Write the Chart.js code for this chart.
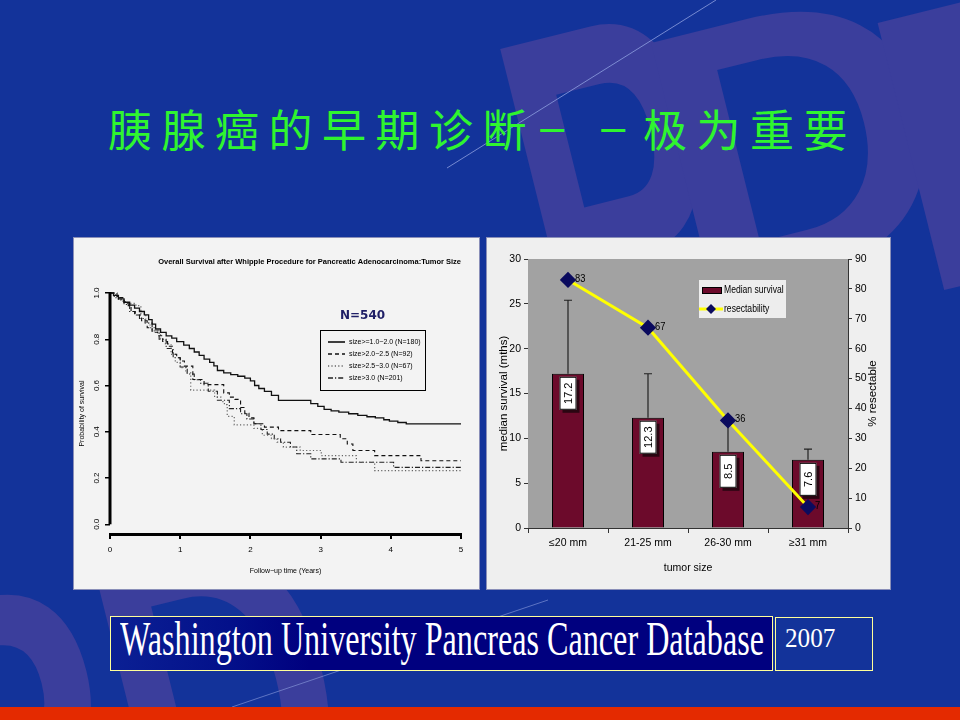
<!DOCTYPE html>
<html>
<head>
<meta charset="utf-8">
<script src="https://cdn.jsdelivr.net/npm/chart.js@4.4.1/dist/chart.umd.min.js"></script>
<style>
  body { margin: 0; width: 960px; height: 720px; overflow: hidden; position: relative; background: #13339a; font-family: "Liberation Sans", Arial, sans-serif; }
  .wm { position: absolute; font: bold 400px/400px "Liberation Sans", Arial, sans-serif; color: #3b3e9c; white-space: nowrap; }
  #wmP { left: 466px; top: -15px; transform-origin: 141px 138px; transform: rotate(-14deg) scale(0.75, 1.3); }
  #wmD { left: 651px; top: -60px; transform-origin: 150px 195px; transform: rotate(-14deg) scale(1.0, 0.95); }
  #wmI { left: 899px; top: -55px; transform-origin: 56px 195px; transform: rotate(-14deg) scale(1.6, 1.0); }
  #wmLow { left: -150px; top: 560px; transform-origin: 0 0; transform: rotate(-14deg) scale(0.8, 1.1); }
  #lines { position: absolute; left: 0; top: 0; }
  #title { position: absolute; left: 108px; top: 98px; font-size: 44px; line-height: 60px; font-family: "Noto Sans CJK SC", sans-serif; color: #2ff52f; letter-spacing: 9.5px; white-space: nowrap; }
  #title .dash { display: inline-block; }
  #dash1 { transform: translateX(-7px) scaleX(0.75); }
  #dash2 { transform: scaleX(0.75); }
  .panel { position: absolute; box-sizing: border-box; border: 1px solid #8a8fb8; }
  #leftPanel { left: 73px; top: 237px; width: 407px; height: 353px; background: #f3f3f3; }
  #rightPanel { left: 486px; top: 237px; width: 405px; height: 353px; background: #efefef; }
  .panel canvas { position: absolute; left: 0; top: 0; }
  #banner { position: absolute; left: 110px; top: 616px; width: 663px; height: 55px; box-sizing: border-box; border: 1px solid #ffff99; background: linear-gradient(90deg, #0b2094 0%, #03108a 18%, #00007f 30%, #00007f 100%); overflow: hidden; }
  #bannerText { position: absolute; left: 9px; top: 0; font: 48px/44px "Liberation Serif", "Times New Roman", serif; color: #fff; white-space: nowrap; transform-origin: 0 0; }
  #year { position: absolute; left: 775px; top: 617px; width: 98px; height: 54px; box-sizing: border-box; border: 1px solid #ffff99; }
  #yearText { position: absolute; left: 9px; top: 6px; font: 28px/28px "Liberation Serif", "Times New Roman", serif; color: #fff; transform-origin: 0 0; transform: scaleX(0.9); }
  #redStrip { position: absolute; left: 0; top: 707px; width: 960px; height: 13px; background: #e42a00; }
</style>
</head>
<body>
<div class="wm" id="wmLow">PD</div>
<div class="wm" id="wmP">P</div>
<div class="wm" id="wmD">D</div>
<div class="wm" id="wmI">I</div>
<svg id="lines" width="960" height="720">
  <line x1="447" y1="168" x2="716" y2="0" stroke="#8fa0e0" stroke-width="1" opacity="0.8"/>
  <line x1="232" y1="707" x2="548" y2="600" stroke="#8fa0e0" stroke-width="1" opacity="0.6"/>
</svg>
<div id="title">胰腺癌的早期诊断<span class="dash" id="dash1">－</span><span class="dash" id="dash2">－</span>极为重要</div>

<div class="panel" id="leftPanel"><canvas id="survivalChart" width="406" height="352"></canvas></div>
<div class="panel" id="rightPanel"><canvas id="resectChart" width="403" height="351"></canvas></div>

<div id="banner"><span id="bannerText">Washington University Pancreas Cancer Database</span></div>
<div id="year"><span id="yearText">2007</span></div>
<div id="redStrip"></div>

<script>
// ---------- left: overall survival by tumour size ----------
const survTitle = "Overall Survival after Whipple Procedure for Pancreatic Adenocarcinoma:Tumor Size";
const probTicks = [0, 0.2, 0.4, 0.6, 0.8, 1.0];
const sizeLabels = ["size>=1.0\u22122.0 (N=180)", "size>2.0\u22122.5 (N=92)", "size>2.5\u22123.0 (N=67)", "size>3.0 (N=201)"];

const yearsA = [0, 0.05, 0.12, 0.2, 0.28, 0.35, 0.42, 0.49, 0.55, 0.6, 0.65, 0.72, 0.8, 0.88, 0.95, 1.05, 1.13, 1.2, 1.27, 1.34, 1.42, 1.48, 1.53, 1.62, 1.72, 1.82, 1.92, 2.0, 2.06, 2.12, 2.2, 2.3, 2.4, 2.86, 2.96, 3.05, 3.15, 3.26, 3.4, 3.53, 3.66, 3.78, 3.9, 3.98, 4.1, 4.22, 5.0];
const survA  = [1, 0.99, 0.975, 0.96, 0.948, 0.935, 0.92, 0.905, 0.885, 0.865, 0.845, 0.83, 0.815, 0.805, 0.79, 0.775, 0.76, 0.745, 0.73, 0.714, 0.7, 0.685, 0.665, 0.655, 0.647, 0.64, 0.632, 0.62, 0.6, 0.587, 0.575, 0.557, 0.536, 0.522, 0.51, 0.497, 0.49, 0.485, 0.478, 0.471, 0.465, 0.46, 0.452, 0.446, 0.44, 0.434, 0.434];

const yearsB = [0, 0.1, 0.2, 0.26, 0.3, 0.36, 0.45, 0.53, 0.6, 0.68, 0.75, 0.82, 0.89, 0.95, 1.0, 1.06, 1.18, 1.34, 1.62, 1.7, 1.78, 1.86, 1.92, 1.98, 2.05, 2.2, 2.4, 2.86, 3.28, 3.38, 3.46, 3.77, 4.43, 5.0];
const survB  = [1, 0.98, 0.96, 0.945, 0.92, 0.905, 0.88, 0.85, 0.83, 0.815, 0.79, 0.77, 0.735, 0.72, 0.706, 0.684, 0.626, 0.604, 0.568, 0.55, 0.54, 0.505, 0.48, 0.46, 0.435, 0.42, 0.405, 0.388, 0.37, 0.347, 0.319, 0.297, 0.275, 0.275];

const yearsC = [0, 0.08, 0.16, 0.22, 0.37, 0.44, 0.51, 0.57, 0.63, 0.72, 0.79, 0.87, 0.93, 1.0, 1.08, 1.15, 1.49, 1.58, 1.63, 1.67, 1.77, 2.05, 2.17, 2.3, 2.38, 2.47, 2.71, 3.01, 3.51, 3.77, 5.0];
const survC  = [1, 0.98, 0.965, 0.955, 0.945, 0.91, 0.87, 0.85, 0.836, 0.8, 0.78, 0.735, 0.7, 0.677, 0.655, 0.58, 0.55, 0.53, 0.517, 0.467, 0.43, 0.415, 0.385, 0.37, 0.355, 0.334, 0.319, 0.297, 0.268, 0.232, 0.232];

const yearsD = [0, 0.06, 0.12, 0.2, 0.28, 0.35, 0.42, 0.5, 0.6, 0.7, 0.8, 0.9, 1.0, 1.1, 1.2, 1.29, 1.4, 1.53, 1.7, 1.86, 1.95, 2.05, 2.15, 2.24, 2.34, 2.43, 2.57, 2.66, 2.86, 3.29, 4.04, 5.0];
const survD  = [1, 0.985, 0.97, 0.95, 0.92, 0.905, 0.89, 0.87, 0.84, 0.8, 0.76, 0.72, 0.68, 0.65, 0.625, 0.61, 0.575, 0.536, 0.5, 0.478, 0.455, 0.435, 0.41, 0.39, 0.37, 0.355, 0.334, 0.305, 0.283, 0.268, 0.246, 0.246];

// ---------- right: median survival + resectability ----------
const sizeGroups = ["\u226420 mm", "21-25 mm", "26-30 mm", "\u226531 mm"];
const medianSurvival = [17.2, 12.3, 8.5, 7.6];
const survivalUpper = [25.4, 17.2, 12.0, 8.8];
const resectable = [83, 67, 36, 7];

const sans = '"Liberation Sans", Arial, sans-serif';

// line looks for the four KM curves
const curveStyles = [
  { color: "#111", dash: [], width: 1.3 },
  { color: "#111", dash: [4, 3], width: 1.1 },
  { color: "#666", dash: [1.2, 2.2], width: 1.2 },
  { color: "#222", dash: [5, 2, 1.2, 2], width: 1.1 }
];
const curves = [[yearsA, survA], [yearsB, survB], [yearsC, survC], [yearsD, survD]];

// R-style pieces: y axis only between 0 and 1, rotated tick labels, N= note, boxed legend
const survivalDecor = {
  id: "survivalDecor",
  afterDraw(chart) {
    const ctx = chart.ctx;
    const x = chart.scales.x, y = chart.scales.y;
    const ax = x.getPixelForValue(0);
    ctx.save();
    ctx.strokeStyle = "#000";
    ctx.lineWidth = 3;
    ctx.beginPath();
    ctx.moveTo(ax, y.getPixelForValue(0));
    ctx.lineTo(ax, y.getPixelForValue(1) - 1);
    ctx.stroke();

    ctx.fillStyle = "#000";
    ctx.font = "8px " + sans;
    ctx.textAlign = "center";
    ctx.textBaseline = "middle";
    probTicks.forEach(v => {
      ctx.save();
      ctx.translate(ax - 13, y.getPixelForValue(v));
      ctx.rotate(-Math.PI / 2);
      ctx.fillText(v.toFixed(1), 0, 0);
      ctx.restore();
    });

    ctx.font = "bold 12px 'DejaVu Sans', sans-serif";
    ctx.fillStyle = "#1e1e66";
    ctx.textAlign = "left";
    ctx.fillText("N=540", 266, 78);

    // legend
    const lx = 246, ly = 92, lw = 105, lh = 60;
    ctx.lineWidth = 1;
    ctx.strokeStyle = "#000";
    ctx.strokeRect(lx + 0.5, ly + 0.5, lw, lh);
    ctx.font = "7px " + sans;
    ctx.fillStyle = "#000";
    chart.data.datasets.forEach((ds, i) => {
      const yy = ly + 12 + i * 12;
      ctx.save();
      ctx.strokeStyle = ds.borderColor;
      ctx.lineWidth = ds.borderWidth + 0.3;
      ctx.setLineDash(ds.borderDash);
      ctx.beginPath();
      ctx.moveTo(lx + 8, yy);
      ctx.lineTo(lx + 25, yy);
      ctx.stroke();
      ctx.restore();
      ctx.fillText(ds.label, lx + 29, yy);
    });
    ctx.restore();
  }
};

new Chart(document.getElementById("survivalChart"), {
  type: "line",
  data: {
    datasets: curves.map((c, i) => ({
      label: sizeLabels[i],
      data: c[0].map((t, k) => ({ x: t, y: c[1][k] })),
      borderColor: curveStyles[i].color,
      borderDash: curveStyles[i].dash,
      borderWidth: curveStyles[i].width,
      stepped: "before",
      pointRadius: 0,
      fill: false,
      clip: false
    }))
  },
  options: {
    responsive: false,
    animation: false,
    layout: { padding: { left: 0, right: 19, top: 0, bottom: 12 } },
    plugins: {
      legend: { display: false },
      tooltip: { enabled: false },
      title: {
        display: true,
        text: survTitle,
        align: "end",
        color: "#000",
        font: { family: sans, size: 7.5, weight: "bold" },
        padding: { top: 19, bottom: 27 }
      }
    },
    scales: {
      x: {
        type: "linear",
        min: 0,
        max: 5,
        ticks: { stepSize: 1, color: "#000", font: { family: sans, size: 8 }, padding: 6, maxRotation: 0 },
        grid: { drawOnChartArea: false, color: "#000", tickLength: 5, lineWidth: 2 },
        border: { display: true, color: "#000", width: 3 },
        title: { display: true, text: "Follow\u2212up time (Years)", color: "#000", font: { family: sans, size: 7 }, padding: 3 },
        afterFit: s => { s.height = 44; }
      },
      y: {
        type: "linear",
        min: -0.042,
        max: 1.0,
        afterBuildTicks: s => { s.ticks = probTicks.map(v => ({ value: v })); },
        ticks: { display: false },
        grid: { drawOnChartArea: false, color: "#000", tickLength: 5, lineWidth: 1.5 },
        border: { display: false },
        title: { display: true, text: "Probability of survival", color: "#000", font: { family: sans, size: 7 }, padding: 4 },
        afterFit: s => { s.width = 36; }
      }
    }
  },
  plugins: [survivalDecor]
});

// ---------- right chart plugins ----------
const plotBackground = {
  id: "plotBackground",
  beforeDatasetsDraw(chart) {
    const { ctx, chartArea: a } = chart;
    ctx.save();
    ctx.fillStyle = "#a2a2a2";
    ctx.fillRect(a.left, a.top, a.right - a.left, a.bottom - a.top);
    // error bars sit under the line
    const meta = chart.getDatasetMeta(1);
    const ys = chart.scales.y;
    ctx.strokeStyle = "#222";
    ctx.lineWidth = 1.2;
    meta.data.forEach((bar, i) => {
      const top = ys.getPixelForValue(survivalUpper[i]);
      ctx.beginPath();
      ctx.moveTo(bar.x, bar.y);
      ctx.lineTo(bar.x, top);
      ctx.moveTo(bar.x - 4, top);
      ctx.lineTo(bar.x + 4, top);
      ctx.stroke();
    });
    ctx.restore();
  }
};

// narrow-ish text: squeeze horizontally since no condensed face is installed
function squeezedText(ctx, text, x, y, sx) {
  ctx.save();
  ctx.translate(x, y);
  ctx.scale(sx, 1);
  ctx.fillText(text, 0, 0);
  ctx.restore();
}

const valueLabels = {
  id: "valueLabels",
  afterDatasetsDraw(chart) {
    const ctx = chart.ctx;
    ctx.save();
    // boxed, rotated bar values
    chart.getDatasetMeta(1).data.forEach((bar, i) => {
      const w = 17, h = 33, bx = bar.x - w / 2, by = bar.y + 3;
      ctx.fillStyle = "#2a0612";
      ctx.fillRect(bx + 3, by + 3, w, h);
      ctx.fillStyle = "#fff";
      ctx.fillRect(bx, by, w, h);
      ctx.strokeStyle = "#000";
      ctx.lineWidth = 1;
      ctx.strokeRect(bx + 0.5, by + 0.5, w - 1, h - 1);
      ctx.save();
      ctx.translate(bar.x, by + h / 2);
      ctx.rotate(-Math.PI / 2);
      ctx.fillStyle = "#000";
      ctx.font = "11px " + sans;
      ctx.textAlign = "center";
      ctx.textBaseline = "middle";
      ctx.fillText(medianSurvival[i].toFixed(1), 0, 1);
      ctx.restore();
    });
    // resectability values next to the diamonds
    ctx.fillStyle = "#000";
    ctx.font = "11px " + sans;
    ctx.textAlign = "left";
    ctx.textBaseline = "middle";
    chart.getDatasetMeta(0).data.forEach((pt, i) => {
      squeezedText(ctx, String(resectable[i]), pt.x + 7, pt.y - 1, 0.85);
    });

    // legend
    const lx = 212, ly = 42;
    ctx.fillStyle = "#ededed";
    ctx.fillRect(lx, ly, 87, 38);
    ctx.fillStyle = "#6c0a2b";
    ctx.fillRect(lx + 3, ly + 7, 20, 7);
    ctx.strokeStyle = "#000";
    ctx.strokeRect(lx + 3.5, ly + 7.5, 19, 6);
    ctx.strokeStyle = "#ffff00";
    ctx.lineWidth = 3;
    ctx.beginPath();
    ctx.moveTo(lx, ly + 29);
    ctx.lineTo(lx + 24, ly + 29);
    ctx.stroke();
    ctx.fillStyle = "#0b0b5e";
    ctx.beginPath();
    ctx.moveTo(lx + 12, ly + 24);
    ctx.lineTo(lx + 17, ly + 29);
    ctx.lineTo(lx + 12, ly + 34);
    ctx.lineTo(lx + 7, ly + 29);
    ctx.closePath();
    ctx.fill();
    ctx.fillStyle = "#000";
    ctx.font = "11px " + sans;
    squeezedText(ctx, chart.data.datasets[1].label, lx + 25, ly + 10, 0.78);
    squeezedText(ctx, chart.data.datasets[0].label, lx + 25, ly + 29, 0.78);

    // right axis title reads bottom-to-top
    const a = chart.chartArea;
    ctx.save();
    ctx.translate(386, (a.top + a.bottom) / 2);
    ctx.rotate(-Math.PI / 2);
    ctx.textAlign = "center";
    ctx.font = "11.5px " + sans;
    ctx.fillText("% resectable", 0, 0);
    ctx.restore();
    ctx.restore();
  }
};

new Chart(document.getElementById("resectChart"), {
  data: {
    labels: sizeGroups,
    datasets: [
      {
        type: "line",
        label: "resectability",
        data: resectable,
        yAxisID: "y2",
        borderColor: "#ffff00",
        borderWidth: 3,
        pointStyle: "rectRot",
        pointRadius: 6,
        pointBackgroundColor: "#0b0b5e",
        pointBorderColor: "#0b0b5e",
        tension: 0,
        order: 0
      },
      {
        type: "bar",
        label: "Median survival",
        data: medianSurvival,
        yAxisID: "y",
        backgroundColor: "#6c0a2b",
        borderColor: "#000",
        borderWidth: 1,
        barPercentage: 0.4,
        categoryPercentage: 1,
        order: 1
      }
    ]
  },
  options: {
    responsive: false,
    animation: false,
    layout: { padding: { top: 21, bottom: 0, left: 0, right: 0 } },
    plugins: { legend: { display: false }, tooltip: { enabled: false } },
    scales: {
      x: {
        ticks: { color: "#000", font: { family: sans, size: 10.5 }, padding: 4, maxRotation: 0 },
        grid: { drawOnChartArea: false, offset: true, color: "#333", tickLength: 5 },
        border: { color: "#333" },
        title: { display: true, text: "tumor size", color: "#000", font: { family: sans, size: 10.5 }, padding: 15 },
        afterFit: s => { s.height = 61; }
      },
      y: {
        position: "left",
        min: 0,
        max: 30,
        ticks: { stepSize: 5, color: "#000", font: { family: sans, size: 10.5 }, padding: 3 },
        grid: { drawOnChartArea: false, color: "#333", tickLength: 4 },
        border: { color: "#333" },
        title: { display: true, text: "median survival (mths)", color: "#000", font: { family: sans, size: 11.5 }, padding: 10 },
        afterFit: s => { s.width = 41; }
      },
      y2: {
        position: "right",
        min: 0,
        max: 90,
        ticks: { stepSize: 10, color: "#000", font: { family: sans, size: 10.5 }, padding: 3 },
        grid: { drawOnChartArea: false, color: "#333", tickLength: 4 },
        border: { color: "#333" },
        afterFit: s => { s.width = 42; }
      }
    }
  },
  plugins: [plotBackground, valueLabels]
});

// squeeze the banner lettering to the box width
const bt = document.getElementById("bannerText");
bt.style.transform = "scaleX(" + (644 / bt.getBoundingClientRect().width) + ")";
</script>
</body>
</html>
